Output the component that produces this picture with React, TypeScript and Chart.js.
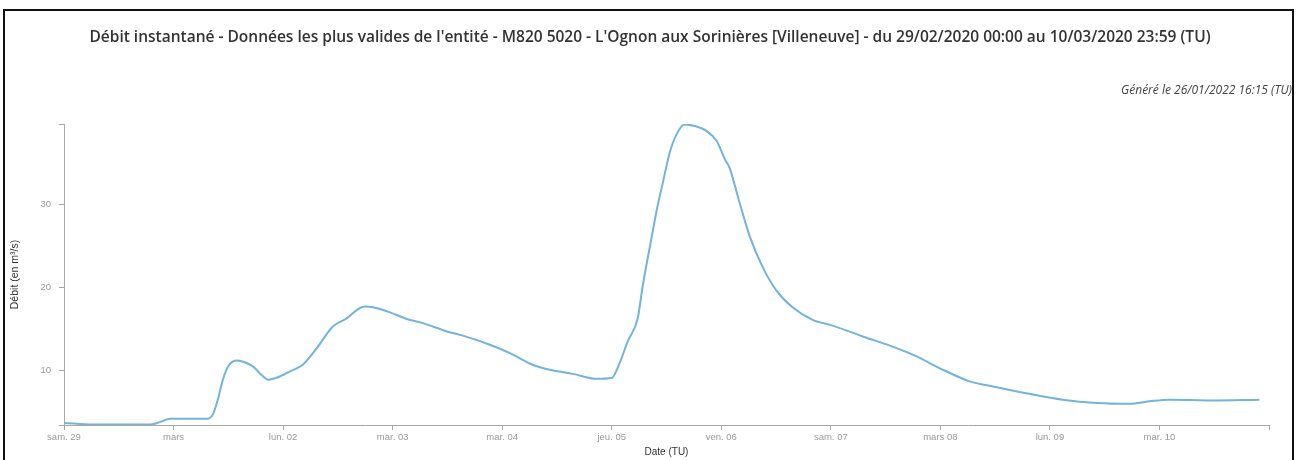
import React, { useEffect, useRef } from 'react';
import { Chart, registerables } from 'chart.js';

Chart.register(...registerables);

const TITLE =
  "Débit instantané - Données les plus valides de l'entité - M820 5020 - L'Ognon aux Sorinières [Villeneuve] - du 29/02/2020 00:00 au 10/03/2020 23:59 (TU)";
const SUBTITLE = 'Généré le 26/01/2022 16:15 (TU)';
const Y_TITLE = 'Débit (en m³/s)';
const X_TITLE = 'Date (TU)';

// x tick labels, one per day (hours 0, 24, ... 264)
const dayLabels = [
  'sam. 29', 'mars', 'lun. 02', 'mar. 03', 'mar. 04', 'jeu. 05',
  'ven. 06', 'sam. 07', 'mars 08', 'lun. 09', 'mar. 10', '',
];
const dayTickHours = [0, 24, 48, 72, 96, 120, 144, 168, 192, 216, 240, 264];

// hours since 29/02/2020 00:00 (TU)
const hours = [
  0, 6.4, 18.8, 21.0, 23.2, 31.3, 32.6, 33.7, 34.8, 36.1, 37.9, 39.6, 41.4, 43.4,
  44.7, 46.9, 49.5, 52.3, 55.4, 58.9, 62.0, 64.2, 65.9, 67.7, 71.4, 75.1, 78.6,
  83.9, 87.4, 93.3, 97.7, 102.7, 106.4, 111.5, 116.7, 120.0, 121.8, 123.5, 125.7,
  126.8, 128.8, 129.9, 131.2, 132.7, 134.2, 136.0, 138.2, 140.8, 143.0, 144.8,
  145.8, 148.0, 150.2, 153.1, 156.1, 159.6, 164.0, 168.4, 175.0, 182.4, 186.8,
  191.8, 198.4, 204.3, 211.5, 218.8, 226.2, 233.4, 237.8, 242.2, 251.6, 261.9,
];
// débit in m3/s
const flows = [
  3.7, 3.5, 3.5, 3.8, 4.2, 4.2, 4.7, 6.5, 8.9, 10.6, 11.2, 11.0, 10.5, 9.4,
  8.9, 9.2, 9.9, 10.7, 12.7, 15.3, 16.3, 17.3, 17.7, 17.6, 17.0, 16.2, 15.7,
  14.7, 14.2, 13.1, 12.1, 10.7, 10.1, 9.6, 9.0, 9.1, 11.0, 13.5, 16.3,
  20.2, 26.2, 29.4, 32.6, 36.2, 38.4, 39.6, 39.4, 38.8, 37.6, 35.4,
  34.4, 30.2, 26.2, 22.4, 19.6, 17.6, 16.1, 15.4, 14.1, 12.7, 11.7,
  10.3, 8.7, 8.0, 7.2, 6.5, 6.1, 6.0, 6.3, 6.5, 6.4, 6.5,
];

const yLabelTicks = [10, 20, 30];
const yMin = 3.45;
const yMax = 39.65;

export default function App() {
  const ref = useRef<HTMLCanvasElement | null>(null);

  useEffect(() => {
    if (!ref.current) return;
    const points = hours.map((h, i) => ({ x: h, y: flows[i] }));
    const tickFont = { family: '"Liberation Sans", Arial, sans-serif', size: 9.5 };
    const axisColor = '#a8a8a8';
    const chart = new Chart(ref.current, {
      type: 'line',
      data: {
        datasets: [
          {
            data: points,
            borderColor: '#72b4dc',
            borderWidth: 2,
            pointRadius: 0,
            fill: false,
            cubicInterpolationMode: 'monotone',
          },
        ],
      },
      options: {
        responsive: false,
        animation: false,
        layout: { padding: { left: 8, right: 4, top: 28, bottom: 0 } },
        plugins: {
          legend: { display: false },
          tooltip: { enabled: false },
          title: {
            display: true,
            text: TITLE,
            color: '#333',
            font: { family: '"Open Sans", sans-serif', size: 15.5, weight: '600', lineHeight: 1.2 },
            padding: { top: 0, bottom: 0 },
          },
          subtitle: {
            display: true,
            text: SUBTITLE,
            align: 'end',
            color: '#444',
            font: { family: '"Open Sans", sans-serif', size: 12, style: 'italic', lineHeight: 1.2 },
            padding: { top: 37, bottom: 26 },
          },
        },
        scales: {
          x: {
            type: 'linear',
            position: 'bottom',
            min: 0,
            max: 264,
            afterBuildTicks: (s: any) => {
              s.ticks = dayTickHours.map((v) => ({ value: v }));
            },
            afterFit: (s: any) => {
              s.height = 35;
            },
            ticks: {
              autoSkip: false,
              maxRotation: 0,
              padding: 2,
              color: '#999',
              font: tickFont,
              callback: (v: any) => {
                const i = dayTickHours.indexOf(Number(v));
                return i >= 0 ? dayLabels[i] : '';
              },
            },
            grid: {
              display: true,
              drawOnChartArea: false,
              drawTicks: true,
              tickLength: 5,
              color: axisColor,
            },
            border: { display: true, color: axisColor, width: 1 },
            title: {
              display: true,
              text: X_TITLE,
              color: '#333',
              font: { family: '"Liberation Sans", Arial, sans-serif', size: 10, lineHeight: 1.2 },
              padding: { top: 0, bottom: 2 },
            },
          },
          y: {
            type: 'linear',
            position: 'left',
            min: yMin,
            max: yMax,
            afterBuildTicks: (s: any) => {
              s.ticks = [yMin, ...yLabelTicks, yMax].map((v) => ({ value: v }));
            },
            afterFit: (s: any) => {
              s.width = 56;
            },
            ticks: {
              autoSkip: false,
              padding: 8,
              color: '#999',
              font: tickFont,
              callback: (v: any) => (yLabelTicks.includes(Number(v)) ? String(v) : ''),
            },
            grid: {
              display: true,
              drawOnChartArea: false,
              drawTicks: true,
              tickLength: 5,
              color: axisColor,
            },
            border: { display: true, color: axisColor, width: 1 },
            title: {
              display: true,
              text: Y_TITLE,
              color: '#333',
              font: { family: '"Liberation Sans", Arial, sans-serif', size: 10.5, lineHeight: 1.2 },
              padding: { top: 1, bottom: 0 },
            },
          },
          spacer: {
            type: 'linear',
            position: 'right',
            display: true,
            afterFit: (s: any) => {
              s.width = 23;
            },
            ticks: { display: false },
            grid: { display: false, drawTicks: false },
            border: { display: false },
          },
        },
      } as any,
    });
    return () => chart.destroy();
  }, []);

  return (
    <div style={{ position: 'fixed', left: 0, top: 0, width: 1296, height: 460, background: '#fff', overflow: 'hidden' }}>
      <div
        style={{
          position: 'absolute',
          left: 3,
          top: 9,
          width: 1291,
          height: 520,
          boxSizing: 'border-box',
          border: '2px solid #111',
        }}
      />
      <canvas ref={ref} width={1296} height={460} style={{ position: 'absolute', left: 0, top: 0, width: 1296, height: 460 }} />
    </div>
  );
}
